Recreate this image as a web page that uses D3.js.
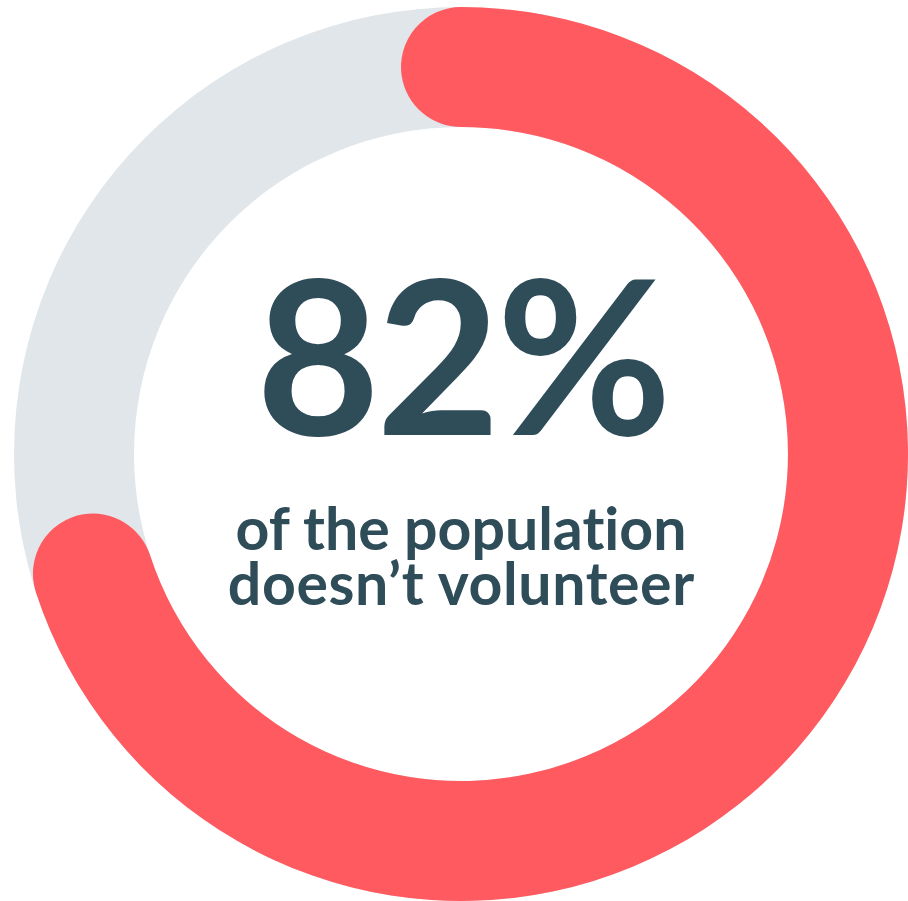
<!DOCTYPE html>
<html>
<head>
<meta charset="utf-8">
<script src="https://cdn.jsdelivr.net/npm/d3@7"></script>
<style>
  html, body { margin: 0; padding: 0; background: #fff; }
  #chart { width: 908px; height: 901px; }
  text { font-family: "Lato", "Open Sans", sans-serif; font-weight: 700; }
</style>
</head>
<body>
<div id="chart"></div>
<script>
// values
var headline = "82%";
var captionLines = ["of the population", "doesn\u2019t volunteer"];
var arcShare = 0.70;   // share of the circle the red band covers in the picture

var width = 908, height = 901;
var cx = 461, cy = 454;
var outerR = 447, innerR = 327;

var svg = d3.select("#chart").append("svg")
    .attr("width", width)
    .attr("height", height);

var g = svg.append("g").attr("transform", "translate(" + cx + "," + cy + ")");

// share -> angle
var angle = d3.scaleLinear().domain([0, 1]).range([0, 2 * Math.PI]);

// grey track
var track = d3.arc().innerRadius(innerR).outerRadius(outerR);
g.append("path")
    .attr("d", track({ startAngle: 0, endAngle: 2 * Math.PI }))
    .attr("fill", "#e1e6ea");

// red band with round ends, caps stick out past the start and end angles
var capR = (outerR - innerR) / 2;
var capAngle = Math.asin(capR / ((outerR + innerR) / 2));
var band = d3.arc().innerRadius(innerR).outerRadius(outerR).cornerRadius(capR);
g.append("path")
    .attr("d", band({ startAngle: angle(0) - capAngle, endAngle: angle(arcShare) + capAngle }))
    .attr("fill", "#ff5a5f");

// stretch a text to a width with letter spacing, keeping it centred
function spreadText(sel, targetW) {
    var n = sel.text().length;
    var w = sel.node().getComputedTextLength();
    var ls = (targetW - w) / n;
    sel.attr("letter-spacing", ls)
       .attr("x", +sel.attr("x") + ls / 2);
}

var big = svg.append("text")
    .attr("x", 464)
    .attr("y", 435)
    .attr("text-anchor", "middle")
    .attr("font-size", 214)
    .attr("fill", "#2f4c59")
    .text(headline);
spreadText(big, 412);

var lineW = [452, 467];
var lineY = [550, 605];
captionLines.forEach(function(t, i) {
    var s = svg.append("text")
        .attr("x", 461)
        .attr("y", lineY[i])
        .attr("text-anchor", "middle")
        .attr("font-size", 59)
        .attr("fill", "#2f4c59")
        .text(t);
    spreadText(s, lineW[i]);
});
</script>
</body>
</html>
